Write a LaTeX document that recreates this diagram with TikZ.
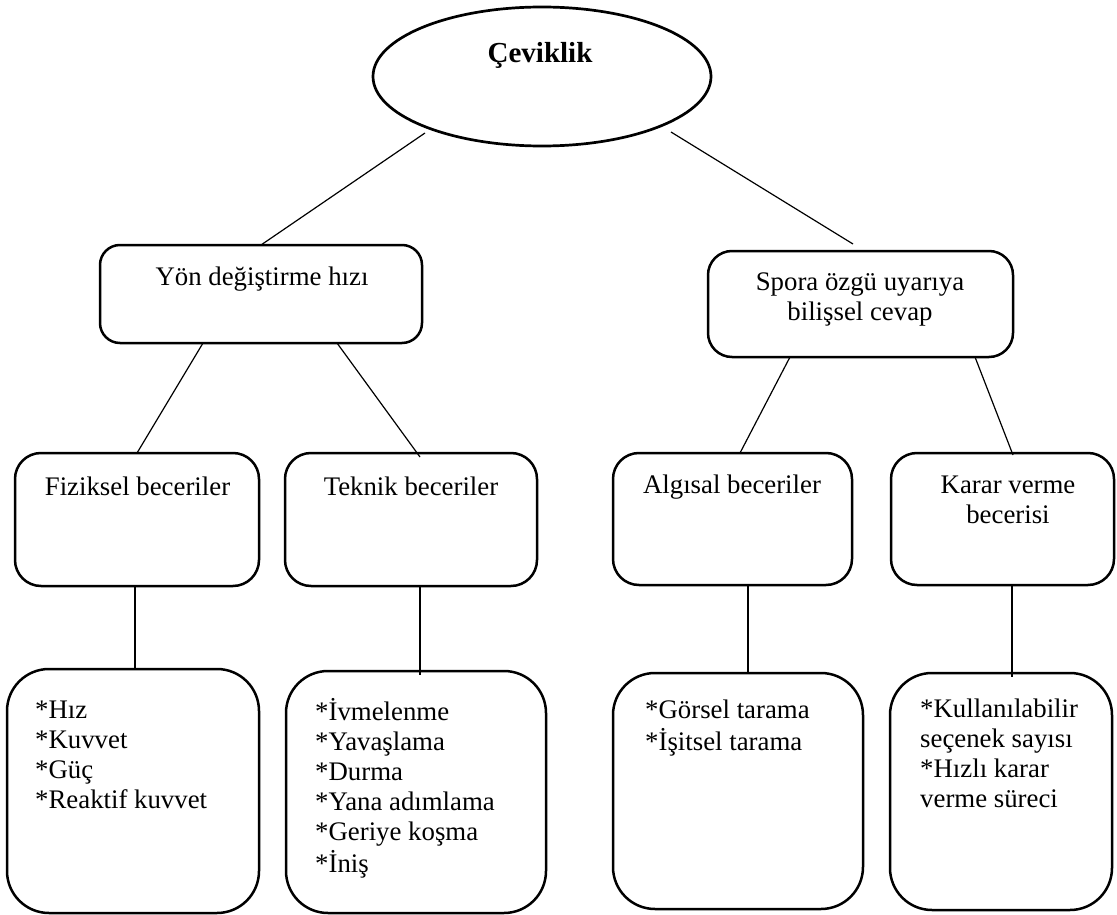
\documentclass[tikz,border=0pt]{standalone}
\usepackage{fontspec}
\setmainfont{Liberation Serif}
\usetikzlibrary{shapes.geometric}
\begin{document}
\begin{tikzpicture}[x=1pt,y=-1pt,
  box/.style={draw, line width=2.5pt, rectangle, inner sep=0pt, outer sep=0pt},
  sbox/.style={box, rounded corners=26pt},
  bbox/.style={box, rounded corners=42pt},
  conn/.style={draw, line width=1.2pt},
  txt/.style={inner sep=0pt, anchor=north, align=center, font=\fontsize{26.8}{30}\selectfont},
  ltxt/.style={inner sep=0pt, anchor=north west, align=left, font=\fontsize{26.8}{30}\selectfont}]
\useasboundingbox (0,0) rectangle (1117,915);

% top ellipse
\node[ellipse, draw, line width=2.7pt, minimum width=338pt, minimum height=139pt, inner sep=0pt, outer sep=0pt] (cev) at (542,76.5) {};
\node[inner sep=0pt, anchor=base, font=\bfseries\fontsize{29}{32}\selectfont] (cevt) at (540,63) {Çeviklik};

% level 2
\node[box, rounded corners=20pt, minimum width=322pt, minimum height=98pt] (yon) at (261,294) {};
\node[txt] (yont) at (262,264) {\strut Yön değiştirme hızı};
\node[box, rounded corners=24pt, minimum width=305pt, minimum height=106pt] (spo) at (860.5,304) {};
\node[txt] (spot) at (860,269) {\strut Spora özgü uyarıya\\\strut bilişsel cevap};

% level 3
\node[sbox, minimum width=244pt, minimum height=133pt] (fiz) at (137,519.5) {};
\node[txt] (fizt) at (137.5,474) {\strut Fiziksel beceriler};
\node[sbox, minimum width=252pt, minimum height=133pt] (tek) at (411,519.5) {};
\node[txt] (tekt) at (411,474) {\strut Teknik beceriler};
\node[sbox, minimum width=239pt, minimum height=132pt] (alg) at (732.5,519) {};
\node[txt] (algt) at (732,472) {\strut Algısal beceriler};
\node[sbox, minimum width=223pt, minimum height=132pt] (kar) at (1002.5,519) {};
\node[txt] (kart) at (1008,472) {\strut Karar verme\\\strut becerisi};

% level 4
\node[bbox, minimum width=252pt, minimum height=244pt] (bA) at (133,791) {};
\node[ltxt] (bAt) at (35,697) {\strut *Hız\\\strut *Kuvvet\\\strut *Güç\\\strut *Reaktif kuvvet};
\node[bbox, minimum width=260pt, minimum height=242pt] (bB) at (416,792) {};
\node[ltxt] (bBt) at (315,698) {\strut *İvmelenme\\\strut *Yavaşlama\\\strut *Durma\\\strut *Yana adımlama\\\strut *Geriye koşma\\\strut *İniş};
\node[bbox, minimum width=250pt, minimum height=236pt] (bC) at (738,791) {};
\node[ltxt] (bCt) at (645,697) {\strut *Görsel tarama\\\strut *İşitsel tarama};
\node[bbox, minimum width=222pt, minimum height=237pt] (bD) at (1001,791.5) {};
\node[ltxt] (bDt) at (920,696) {\strut *Kullanılabilir\\\strut seçenek sayısı\\\strut *Hızlı karar\\\strut verme süreci};

% connector end points
\coordinate (e1) at (425,133);
\coordinate (e2) at (671,132);
\coordinate (s0) at (853,244);
\coordinate (y1) at (203,343);
\coordinate (y2) at (337,343);
\coordinate (t0) at (420,457);
\coordinate (s1) at (790,357);
\coordinate (a0) at (740,453);
\coordinate (s2) at (975,357);
\coordinate (k0) at (1013,455);
\coordinate (f1) at (135,586);
\coordinate (f2) at (135,669);
\coordinate (t1) at (420,586);
\coordinate (t2) at (420,675);
\coordinate (a1) at (748,585);
\coordinate (a2) at (748,673);
\coordinate (k1) at (1012,585);
\coordinate (k2) at (1012,677);

\draw[conn] (e1) -- (yon.north);
\draw[conn] (e2) -- (s0);
\draw[conn] (y1) -- (fiz.north);
\draw[conn] (y2) -- (t0);
\draw[conn] (s1) -- (a0);
\draw[conn] (s2) -- (k0);
\draw[conn] (f1) -- (f2);
\draw[conn] (t1) -- (t2);
\draw[conn] (a1) -- (a2);
\draw[conn] (k1) -- (k2);
\end{tikzpicture}
\end{document}
